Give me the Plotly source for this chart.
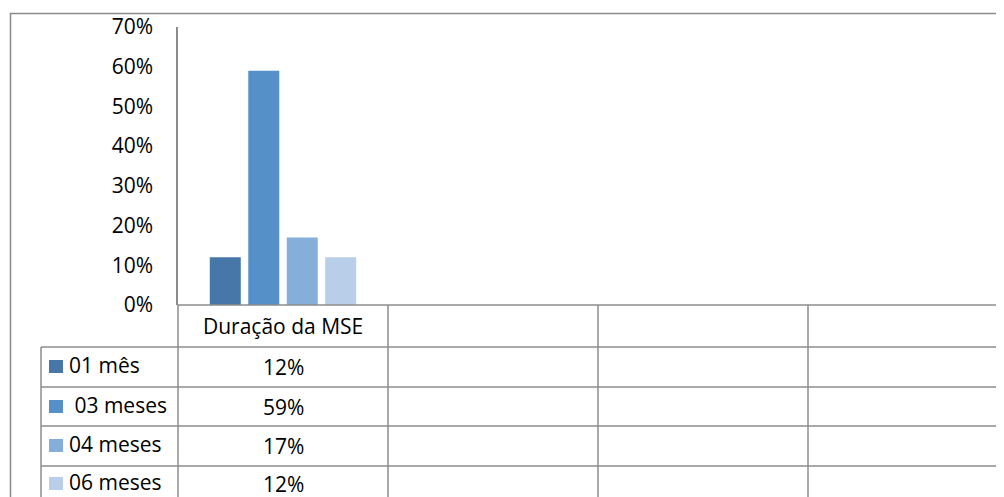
import plotly.graph_objects as go

categories = ["Duração da MSE", "", " ", "  "]
series_names = ["01 mês", " 03 meses", "04 meses", "06 meses"]
series_values = [0.12, 0.59, 0.17, 0.12]
series_labels = ["12%", "59%", "17%", "12%"]
colors = ["#4677A8", "#5591C8", "#86AEDB", "#B9CEE8"]
y_ticks = [0, 0.1, 0.2, 0.3, 0.4, 0.5, 0.6, 0.7]
y_ticktext = ["0%", "10%", "20%", "30%", "40%", "50%", "60%", "70%"]

# page body has an 8px margin; work in reference pixel coords and shift
OFF = 8
W, H = 1004, 497 - OFF
L, T, B = 178, 27, 305  # reference pixel coords
plot_w = W + OFF - L
plot_h = B - T
cat_w = 210.0

FONT = "Open Sans"
FS = 21
TXT = "#000000"
GRID = "#8C8C8C"

def px_x(p):
    return (p - L) / plot_w

def px_y(p):
    return (B - p) / plot_h

fig = go.Figure()
for name, val, col in zip(series_names, series_values, colors):
    fig.add_trace(go.Bar(
        x=[categories[0]], y=[val], name=name,
        marker=dict(color=col, line=dict(width=0)),
        showlegend=False,
    ))

shapes = []
line = dict(color=GRID, width=1.5)
shapes.append(dict(type="rect", xref="paper", yref="paper",
                   x0=px_x(10.5), x1=px_x(1030), y0=px_y(13.5), y1=px_y(520),
                   line=dict(color="#8A8A8A", width=1.5), layer="below"))
row_y = [347, 387, 426, 466]
for ry in row_y:
    shapes.append(dict(type="line", xref="paper", yref="paper",
                       x0=px_x(41), x1=1.02, y0=px_y(ry), y1=px_y(ry), line=line))
shapes.append(dict(type="line", xref="paper", yref="paper",
                   x0=0, x1=1.02, y0=0, y1=0, line=line))
shapes.append(dict(type="line", xref="paper", yref="paper",
                   x0=px_x(41), x1=px_x(41), y0=px_y(347), y1=px_y(520), line=line))
shapes.append(dict(type="line", xref="paper", yref="paper",
                   x0=0, x1=0, y0=px_y(305), y1=px_y(520), line=line))
for k in range(1, 4):
    xv = k * cat_w + L
    shapes.append(dict(type="line", xref="paper", yref="paper",
                       x0=px_x(xv), x1=px_x(xv), y0=px_y(305), y1=px_y(520), line=line))

annotations = []
annotations.append(dict(x=px_x(L + cat_w / 2), y=px_y(326), xref="paper", yref="paper",
                        text=categories[0], showarrow=False,
                        font=dict(family=FONT, size=FS, color=TXT),
                        xanchor="center", yanchor="middle"))
row_centers = [366, 406, 445, 483]
for i, (name, lab, col) in enumerate(zip(series_names, series_labels, colors)):
    cy = row_centers[i]
    shapes.append(dict(type="rect", xref="paper", yref="paper",
                       x0=px_x(49), x1=px_x(63), y0=px_y(cy - 6), y1=px_y(cy + 7),
                       fillcolor=col, line=dict(width=0)))
    annotations.append(dict(x=px_x(67), y=px_y(cy - 1), xref="paper", yref="paper",
                            text=name.replace(" ", "&nbsp;"), showarrow=False,
                            font=dict(family=FONT, size=FS, color=TXT),
                            xanchor="left", yanchor="middle"))
    annotations.append(dict(x=px_x(L + cat_w / 2), y=px_y(cy + 1), xref="paper", yref="paper",
                            text=lab, showarrow=False,
                            font=dict(family=FONT, size=FS, color=TXT),
                            xanchor="center", yanchor="middle"))

fig.update_layout(
    width=W, height=H,
    margin=dict(l=L - OFF, r=0, t=T - OFF, b=H - (B - OFF), pad=0),
    paper_bgcolor="white", plot_bgcolor="white",
    barmode="group", bargap=0.267, bargroupgap=0.195,
    xaxis=dict(type="category", categoryorder="array", categoryarray=categories,
               range=[-0.5, -0.5 + plot_w / cat_w], showticklabels=False,
               showgrid=False, zeroline=False, showline=False, fixedrange=True),
    yaxis=dict(range=[0, 0.7], tickvals=y_ticks, ticktext=y_ticktext,
               showgrid=False, zeroline=False, showline=True, linecolor=GRID,
               linewidth=1.5, ticks="", ticklabelstandoff=19,
               tickfont=dict(family=FONT, size=FS, color=TXT), fixedrange=True),
    shapes=shapes, annotations=annotations,
)
fig.write_html("out.html")
